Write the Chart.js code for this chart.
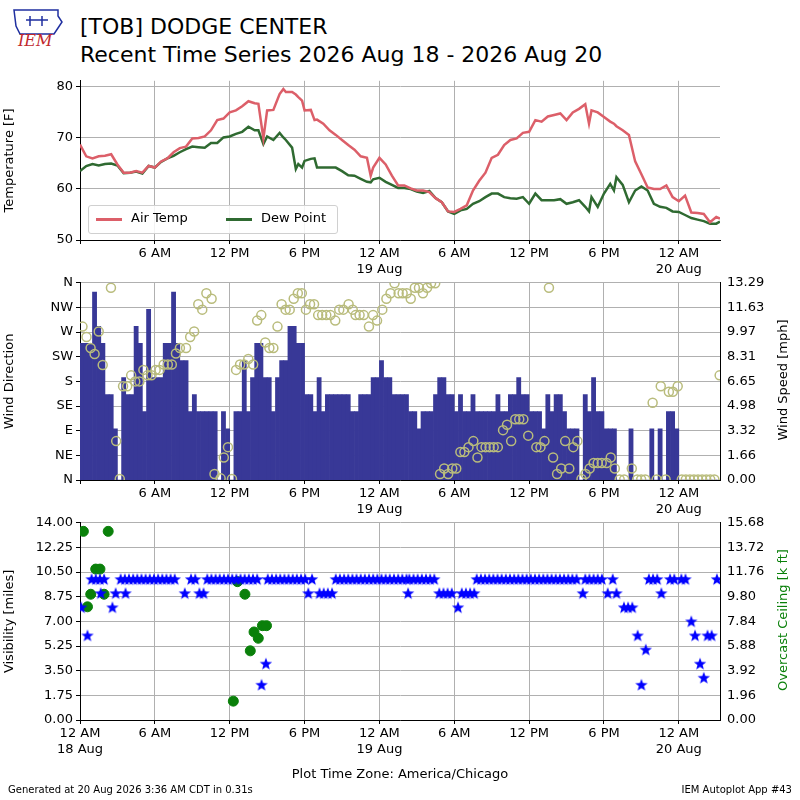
<!DOCTYPE html>
<html>
<head>
<meta charset="utf-8">
<script src="https://cdn.jsdelivr.net/npm/chart.js@4.4.1/dist/chart.umd.min.js"></script>
<style>
body { margin: 0; background: #fff; font-family: "DejaVu Sans", sans-serif; }
#wrap { position: relative; width: 800px; height: 800px; overflow: hidden; }
canvas { position: absolute; left: 0; }
.txt { position: absolute; color: #000; white-space: nowrap; }
.rtitle { position: absolute; font-size: 13px; white-space: nowrap; transform: translate(-50%, -50%) rotate(-90deg); }
#legend { position: absolute; left: 88px; top: 205px; width: 248px; height: 27px; border: 1px solid #d0d0d0; border-radius: 3px; background: rgba(255,255,255,0.85); font-size: 13px; }
#legend span.ln { position: absolute; top: 12px; width: 26px; height: 3px; }
#legend span.lb { position: absolute; top: 4px; }
#logo { position: absolute; left: 8px; top: 6px; width: 58px; height: 42px; }
</style>
</head>
<body>
<div id="wrap">
  <div id="logo">
    <svg width="58" height="42">
      <path d="M6 4 L50 4 L50 10 L54 16 L50 22 L46 28 L12 28 L8 20 Z" fill="none" stroke="#1f2fa0" stroke-width="1.5"/>
      <path d="M18 14 L40 14 M22 10 L22 20 M34 10 L34 20" stroke="#1f2fa0" stroke-width="1.5"/>
      <text x="10" y="40" font-family="DejaVu Serif" font-style="italic" font-size="16" fill="#c0282d">IEM</text>
    </svg>
  </div>
  <div class="txt" style="left:80px; top:14px; font-size:22px;">[TOB] DODGE CENTER</div>
  <div class="txt" style="left:80px; top:42px; font-size:22px;">Recent Time Series 2026 Aug 18 - 2026 Aug 20</div>
  <canvas id="tempChart" style="top:70px" width="800" height="210"></canvas>
  <canvas id="windChart" style="top:272px" width="800" height="248"></canvas>
  <canvas id="visChart" style="top:512px" width="800" height="258"></canvas>
  <div id="legend">
    <span class="ln" style="left:7px; background:#dc5f69"></span><span class="lb" style="left:42px">Air Temp</span>
    <span class="ln" style="left:137px; background:#2f6a31"></span><span class="lb" style="left:172px">Dew Point</span>
  </div>
  <div class="rtitle" style="left:782px; top:380px;">Wind Speed [mph]</div>
  <div class="rtitle" style="left:782px; top:620px; color:#0a800a;">Overcast Ceiling [k ft]</div>
  <div class="txt" style="left:0; width:800px; text-align:center; top:766px; font-size:13px;">Plot Time Zone: America/Chicago</div>
  <div class="txt" style="left:8px; top:784px; font-size:10px;">Generated at 20 Aug 2026 3:36 AM CDT in 0.31s</div>
  <div class="txt" style="right:8px; top:784px; font-size:10px;">IEM Autoplot App #43</div>
</div>
<script>
// hours since 12 AM 18 Aug, air temp, dew point
const tempObs = [
    [0,68.7,63.5],[0.5,66.4,64.5],[1,66,64.9],[1.5,66.4,64.6],[2,66.5,64.9],[2.5,66.8,65],[3,64.8,64.6],[3.5,63.2,63.1],
    [4,63.2,63.2],[4.5,63.5,63.4],[5,63.2,63],[5.5,64.5,64.5],[6,64.2,64.2],[6.5,65.4,65.3],[7,66,66],[7.5,67.2,66.5],
    [8,68,67.2],[8.5,68.3,67.8],[9,69.9,68.3],[9.5,70,68.2],[10,70.3,68.1],[10.5,71.5,69],[11,73.5,69],[11.5,73.8,70.1],
    [12,75,70.3],[12.5,75.4,70.8],[13,76.2,71.2],[13.5,77.2,72.2],[14,76.8,71.5],[14.3,76.7,71.5],[14.7,69.9,68.8],
    [15,75.4,70.3],[15.5,75.5,69.6],[16,78.6,71],[16.3,79.6,70.1],[16.5,79,69.6],[17,79,68.1],[17.3,78.5,63.9],
    [17.5,78,64.9],[17.8,77.3,64.2],[18,75.4,65.5],[18.5,75.5,65.9],[18.8,73.5,66],[19,73.6,64.2],[19.5,72.8,64.2],
    [20,71.5,64.2],[20.5,70.6,64.2],[21,69.6,63.5],[21.5,68.6,62.7],[22,67.7,62.6],[22.5,66.4,62],[23,66.1,61.4],
    [23.3,62.6,61.3],[23.5,64.2,61.9],[24,66.1,62.2],[24.5,64.8,61.4],[25,62.6,60.8],[25.5,60.7,60.2],[26,60.7,60.2],
    [26.5,60.1,60],[27,59.7,59.5],[27.5,59.7,59.2],[28,59.4,59.6],[28.5,58.2,58.2],[29,57.4,57.4],[29.5,55.6,55.6],
    [30,55.5,55.1],[30.5,56.1,55.8],[31,56.8,56.1],[31.5,59.7,57.1],[32,61.6,57.6],[32.5,63.2,58.4],[33,66.1,59.1],
    [33.5,66.7,59.1],[34,68.6,58.4],[34.5,69.6,58.2],[35,69.9,58.1],[35.5,71,58.4],[36,71.2,57.1],[36.5,73.5,59.1],
    [37,73.2,57.8],[37.5,74.2,57.8],[38,74.5,57.8],[38.5,74.8,58],[39,73.5,57.1],[39.5,75,57.4],[40,75.7,57.8],
    [40.5,76.6,56.5],[40.8,72.8,55.6],[41,75.4,58.4],[41.5,75,56.5],[42,74.1,59.1],[42.5,73.2,61],[42.8,72.8,59.7],
    [43,72.3,62.3],[43.5,71.5,60.8],[44,70.6,57.4],[44.5,65.4,59.7],[45,62.9,60.5],[45.5,60.3,59.7],[46,60,57.1],
    [46.5,60,56.5],[47,60.7,56.3],[47.5,58.4,55.6],[48,57.6,55.5],[48.5,58.7,54.9],[49,55.4,54.3],[49.5,55.3,54],
    [50,55.1,53.7],[50.5,53.5,53.2],[51,54.5,53.2],[51.3,54.2,53.6]
];

// wind speed as runs of 20-minute obs: [number of obs, knots]
const windRuns = [
    [3,8],[1,11],[1,9],[1,8],[2,5],[1,3],[1,0],[1,6],[2,5],[1,9],[1,8],[1,4],[1,10],[3,6],[2,8],[1,11],[1,8],[2,7],
    [1,4],[1,5],[5,4],[1,0],[1,4],[1,3],[1,0],[2,4],[1,7],[1,4],[1,6],[2,8],[2,6],[1,4],[1,6],[2,7],[2,9],[2,8],
    [2,5],[1,4],[1,6],[1,4],[6,5],[2,4],[3,5],[2,6],[1,7],[2,6],[4,5],[2,4],[1,3],[3,4],[1,5],[2,6],[2,5],[1,4],
    [1,5],[2,4],[1,5],[5,4],[1,5],[2,4],[2,5],[1,6],[2,5],[3,4],[1,3],[1,5],[1,4],[2,5],[1,4],[3,3],[1,0],[1,5],
    [1,4],[1,6],[2,4],[3,3],[3,0],[1,3],[4,0],[1,3],[1,0],[1,3],[1,0],[2,4],[1,3],[10,0],[1,3]
];

// wind direction: [hour, degrees]
const windDir = [
    [0.2,280],[0.52,261],[0.85,241],[1.17,230],[1.5,271],[1.82,210],[2.48,351],[2.9,71],[3.19,2],[3.45,171],[3.78,171],
    [4.1,191],[4.43,180],[4.76,180],[5.08,201],[5.41,191],[5.73,191],[6.06,201],[6.38,201],[6.71,211],[7.04,211],
    [7.36,211],[7.69,231],[8.01,241],[8.5,241],[8.83,261],[9.15,271],[9.48,321],[9.8,311],[10.13,341],[10.55,331],
    [10.78,11],[11.27,3],[11.53,41],[11.86,60],[12.18,2],[12.51,201],[12.83,211],[13.16,211],[13.49,221],[13.88,211],
    [14.2,291],[14.53,301],[14.85,251],[15.18,241],[15.5,241],[15.83,280],[16.16,321],[16.48,311],[16.81,311],
    [17.13,331],[17.46,341],[17.78,341],[18.11,311],[18.44,321],[18.76,321],[19.09,301],[19.41,301],[19.74,301],
    [20.07,301],[20.46,291],[20.78,311],[21.11,311],[21.53,321],[21.86,311],[22.09,301],[22.41,301],[22.74,301],
    [23.16,280],[23.49,301],[23.81,291],[24.23,311],[24.56,331],[24.89,341],[25.21,359],[25.54,341],[25.86,341],
    [26.19,341],[26.51,331],[26.84,351],[27.17,351],[27.49,341],[27.82,351],[28.14,359],[28.47,359],
    [28.86,11],[29.19,21],[29.51,11],[29.84,21],[30.16,21],[30.49,51],[30.81,51],[31.14,60],[31.53,71],[31.86,41],
    [32.18,60],[32.51,60],[32.83,60],[33.16,60],[33.49,60],[33.91,91],[34.23,101],[34.56,71],[34.89,111],[35.21,111],
    [35.54,111],[35.93,81],[36.58,60],[36.91,60],[37.23,71],[37.59,351],[37.92,41],[38.24,11],[38.57,21],[38.89,71],
    [39.22,21],[39.54,60],[39.87,71],[40.2,2],[40.52,11],[40.85,21],[41.17,31],[41.5,31],[41.82,31],[42.21,31],
    [42.54,41],[42.87,21],[43.26,1],[43.62,1],[44.23,21],[44.66,1],[44.98,1],[45.31,1],[45.9,141],[46.22,1],
    [46.55,171],[46.94,1],[47.2,161],[47.52,161],[47.91,171],[48.24,1],[48.56,1],[48.89,1],[49.21,1],[49.54,1],
    [49.87,1],[50.2,1],[50.52,1],[50.85,1],[51.27,191]
];

// visibility runs: [start hour, end hour, miles], obs every 20 minutes
const visRuns = [
    [0.1,0.1,8],[0.6,0.6,6],[0.93,2.1,10],[1.66,1.66,9],[2.6,2.6,8],[2.86,2.86,9],[3.26,7.9,10],[3.65,3.65,9],
    [8.4,8.7,9],[8.9,9.4,10],[9.57,9.97,9],[10.2,14.5,10],[15.05,18.04,10],[18.3,18.3,9],[18.6,18.9,10],[19.2,20.4,9],
    [20.5,26.2,10],[26.3,26.3,9],[26.4,28.7,10],[28.8,30.0,9],[30.3,30.3,8],[30.6,31.7,9],[31.8,40.1,10],[40.3,40.3,9],
    [40.5,42.0,10],[42.3,42.3,9],[42.7,42.7,10],[43.0,43.3,9],[43.6,44.5,8],[44.7,44.7,6],[45.0,45.0,2.5],[45.35,45.35,5],
    [45.6,46.4,10],[46.6,46.9,9],[47.3,47.8,10],[48.2,48.8,10],[49.0,49.0,7],[49.3,49.3,6],[49.7,49.7,4],[50.0,50.0,3],
    [50.3,50.7,6],[51.05,51.05,10]
];
// extra dip reported near noon on 18 Aug
const visDips = [[14.55,2.5],[14.9,4]];

// overcast ceiling [hour, k ft]
const ceiling = [
    [0.27,15],[0.6,9],[0.86,10],[1.26,12],[1.6,12],[1.93,10],[2.26,15],
    [12.29,1.5],[12.62,11],[13.22,10],[13.65,5.5],[13.95,7],[14.29,6.5],[14.62,7.5],[14.95,7.5]
];

const X_MAX = 51.3;
const FONT = { family: 'DejaVu Sans', size: 13 };
Chart.defaults.font.family = 'DejaVu Sans';
Chart.defaults.color = '#000';
Chart.defaults.animation = false;

function hourLabel(h, showZero) {
    if (h === 0 && !showZero) return '';
    const hod = h % 24;
    const name = hod === 0 ? '12 AM' : hod === 12 ? '12 PM' : hod < 12 ? hod + ' AM' : (hod - 12) + ' PM';
    if (hod === 0) return [name, (18 + h / 24) + ' Aug'];
    return name;
}

function xAxis(showZero, height) {
    return {
        type: 'linear', min: 0, max: X_MAX, offset: false,
        afterBuildTicks: ax => { ax.ticks = [0, 6, 12, 18, 24, 30, 36, 42, 48].map(v => ({ value: v })); },
        ticks: { font: FONT, maxRotation: 0, autoSkip: false, padding: 2, callback: v => hourLabel(v, showZero) },
        grid: { color: '#b0b0b0', tickLength: 4, tickColor: '#000', offset: false },
        border: { color: '#000' },
        afterFit: ax => { ax.height = height; }
    };
}

function fixedTicks(values) {
    return ax => { ax.ticks = values.map(v => ({ value: v })); };
}

const leftWidth = ax => { ax.width = 80; };
const rightWidth = ax => { ax.width = 80; };

// temperature panel
new Chart(document.getElementById('tempChart'), {
    type: 'line',
    data: {
        datasets: [
            { label: 'Air Temp', data: tempObs.map(r => ({ x: r[0], y: r[1] })), borderColor: '#dc5f69', borderWidth: 2.5, pointRadius: 0 },
            { label: 'Dew Point', data: tempObs.map(r => ({ x: r[0], y: r[2] })), borderColor: '#2f6a31', borderWidth: 2.5, pointRadius: 0 }
        ]
    },
    options: {
        responsive: false,
        layout: { padding: { top: 8, right: 80 } },
        plugins: { legend: { display: false }, tooltip: { enabled: false } },
        scales: {
            x: xAxis(false, 40),
            y: {
                min: 50, max: 81.2,
                afterBuildTicks: fixedTicks([50, 60, 70, 80]),
                ticks: { font: FONT },
                grid: { color: '#b0b0b0', tickLength: 4, tickColor: '#000' },
                border: { color: '#000' },
                title: { display: true, text: 'Temperature [F]', font: FONT, padding: 2 },
                afterFit: leftWidth
            }
        }
    }
});

// wind panel
const windBars = [];
let slot = 0;
windRuns.forEach(([n, kt]) => {
    for (let i = 0; i < n; i++) {
        windBars.push({ x: (slot + 0.5) / 3, y: kt * 1.1508 });
        slot++;
    }
});
const dirNames = ['N', 'NE', 'E', 'SE', 'S', 'SW', 'W', 'NW', 'N'];
const spdTicks = [0, 1.66, 3.32, 4.98, 6.65, 8.31, 9.97, 11.63, 13.29];

new Chart(document.getElementById('windChart'), {
    data: {
        datasets: [
            { type: 'scatter', data: windDir.map(r => ({ x: r[0], y: r[1] })), yAxisID: 'y', pointRadius: 4.5, pointBorderWidth: 1.5, pointBorderColor: '#b9bc7c', pointBackgroundColor: 'rgba(0,0,0,0)', order: 0 },
            { type: 'bar', data: windBars, yAxisID: 'y2', backgroundColor: '#383897', barPercentage: 1, categoryPercentage: 1, order: 1 }
        ]
    },
    options: {
        responsive: false,
        layout: { padding: { top: 8 } },
        plugins: { legend: { display: false }, tooltip: { enabled: false } },
        scales: {
            x: xAxis(false, 40),
            y: {
                position: 'left', min: 0, max: 360,
                afterBuildTicks: fixedTicks([0, 45, 90, 135, 180, 225, 270, 315, 360]),
                ticks: { font: FONT, callback: v => dirNames[v / 45] },
                grid: { color: '#b0b0b0', tickLength: 4, tickColor: '#000' },
                border: { color: '#000' },
                title: { display: true, text: 'Wind Direction', font: FONT, padding: 2 },
                afterFit: leftWidth
            },
            y2: {
                position: 'right', min: 0, max: 13.29,
                afterBuildTicks: fixedTicks(spdTicks),
                ticks: { font: FONT, callback: v => v.toFixed(2) },
                grid: { display: false, tickLength: 4, tickColor: '#000' },
                border: { color: '#000' },
                afterFit: rightWidth
            }
        }
    }
});

// visibility / ceiling panel
const starImg = document.createElement('canvas');
starImg.width = 14; starImg.height = 14;
(function () {
    const c = starImg.getContext('2d');
    c.fillStyle = '#0000ff';
    c.beginPath();
    for (let i = 0; i < 10; i++) {
        const r = i % 2 === 0 ? 6.5 : 2.7;
        const a = -Math.PI / 2 + i * Math.PI / 5;
        const px = 7 + r * Math.cos(a), py = 7.5 + r * Math.sin(a);
        if (i === 0) c.moveTo(px, py); else c.lineTo(px, py);
    }
    c.closePath();
    c.fill();
})();

const visPts = [];
visRuns.forEach(([a, b, v]) => {
    for (let h = a; h <= b + 0.01; h += 1 / 3) visPts.push({ x: h, y: v });
});
visDips.forEach(([h, v]) => visPts.push({ x: h, y: v }));

const visTicks = [0, 1.75, 3.5, 5.25, 7, 8.75, 10.5, 12.25, 14];
const ceilTicks = [0, 1.96, 3.92, 5.88, 7.84, 9.8, 11.76, 13.72, 15.68];

new Chart(document.getElementById('visChart'), {
    type: 'scatter',
    data: {
        datasets: [
            { data: visPts, yAxisID: 'y', pointStyle: starImg, pointRadius: 7 },
            { data: ceiling.map(r => ({ x: r[0], y: r[1] })), yAxisID: 'y2', pointRadius: 5, pointBackgroundColor: '#0a800a', pointBorderColor: '#0a800a' }
        ]
    },
    options: {
        responsive: false,
        layout: { padding: { top: 8 } },
        plugins: { legend: { display: false }, tooltip: { enabled: false } },
        scales: {
            x: xAxis(true, 50),
            y: {
                position: 'left', min: 0, max: 14,
                afterBuildTicks: fixedTicks(visTicks),
                ticks: { font: FONT, callback: v => v.toFixed(2) },
                grid: { color: '#b0b0b0', tickLength: 4, tickColor: '#000' },
                border: { color: '#000' },
                title: { display: true, text: 'Visibility [miles]', font: FONT, padding: 2 },
                afterFit: leftWidth
            },
            y2: {
                position: 'right', min: 0, max: 15.68,
                afterBuildTicks: fixedTicks(ceilTicks),
                ticks: { font: FONT, callback: v => v.toFixed(2) },
                grid: { display: false, tickLength: 4, tickColor: '#000' },
                border: { color: '#000' },
                afterFit: rightWidth
            }
        }
    }
});
</script>
</body>
</html>
